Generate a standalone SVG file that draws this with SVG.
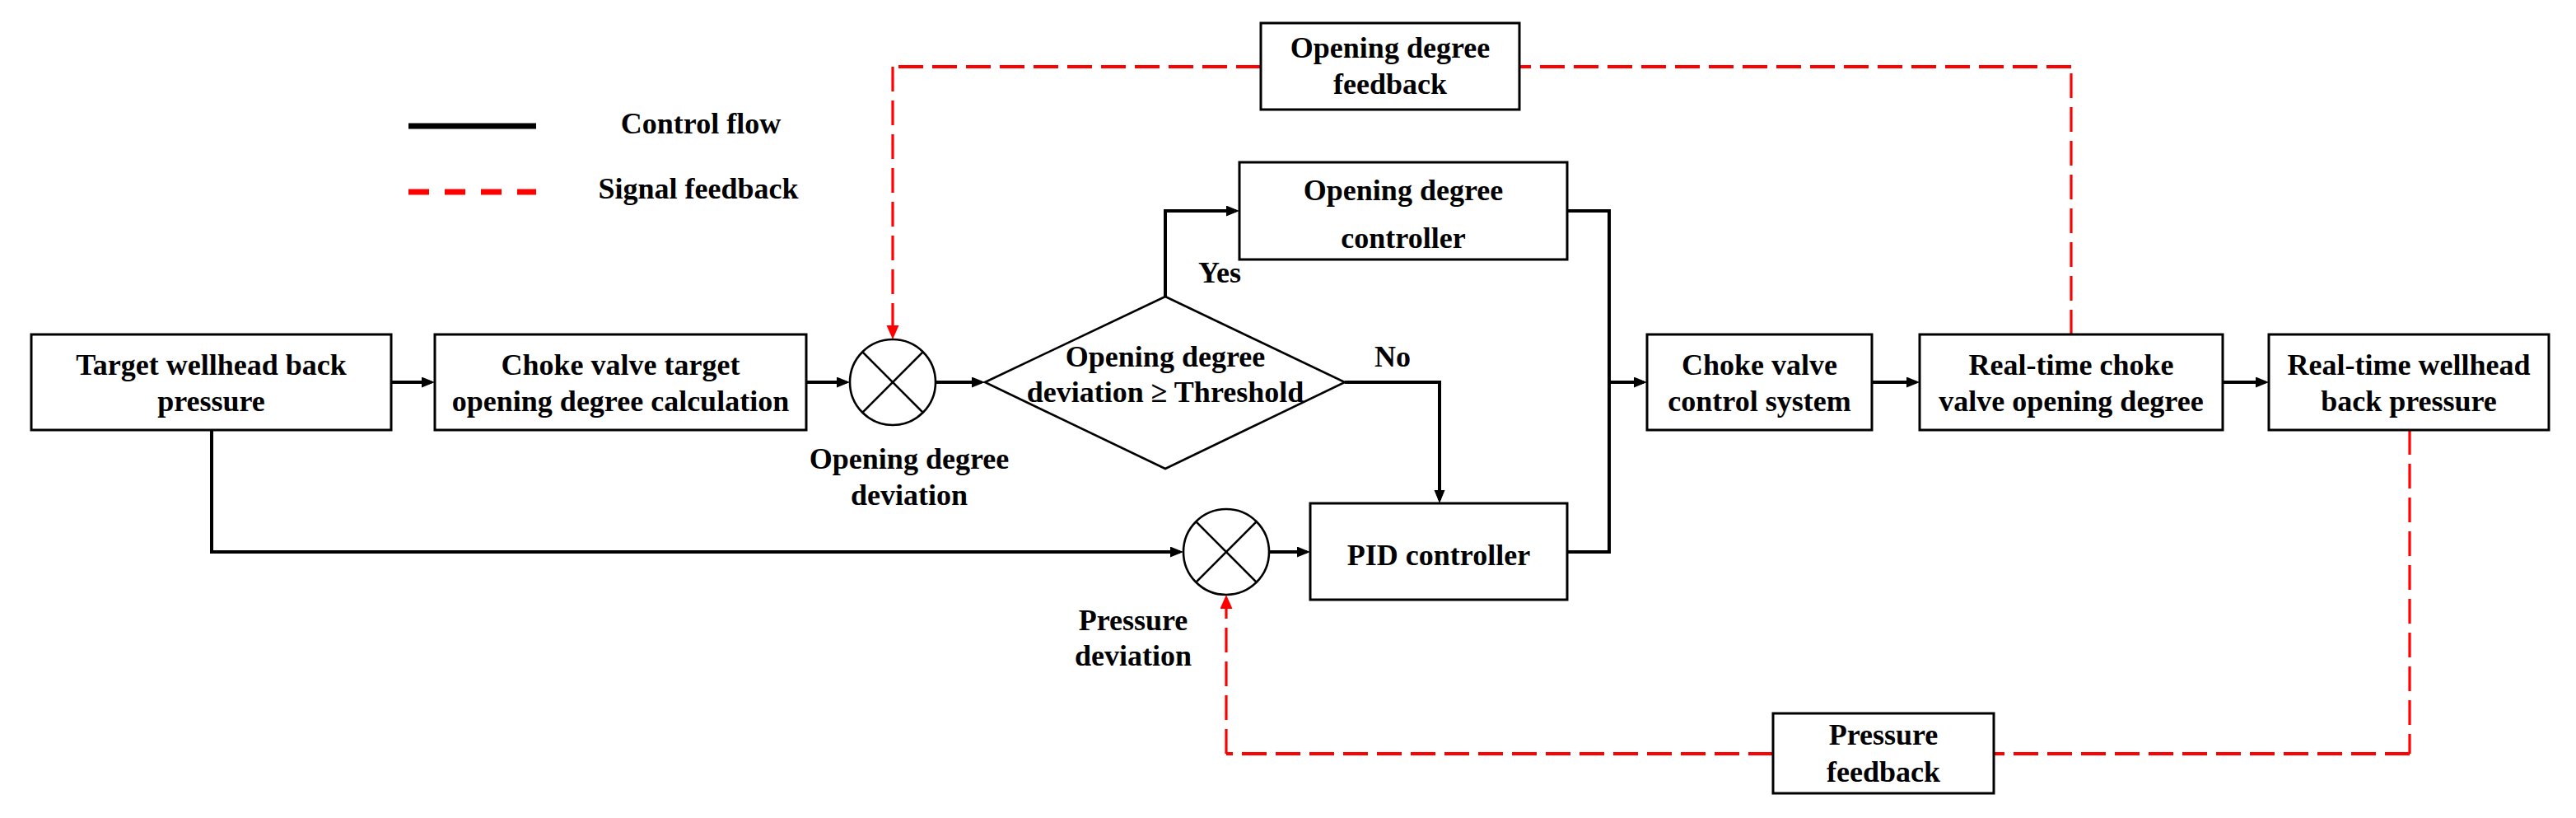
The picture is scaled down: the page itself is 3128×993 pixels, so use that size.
<svg xmlns="http://www.w3.org/2000/svg" width="3128" height="993" viewBox="0 0 3128 993">
<style>
  .box{fill:#fff;stroke:#000;stroke-width:3}
  .shape{fill:#fff;stroke:#000;stroke-width:2.6}
  .xl{stroke:#000;stroke-width:2.6}
  .t{font-family:"Liberation Serif","Times New Roman",serif;font-weight:bold;font-size:36px;fill:#000;text-anchor:middle}
  .ctl{fill:none;stroke:#000;stroke-width:4}
  .fbh{fill:none;stroke:#ff0000;stroke-width:4;stroke-dasharray:30 11}
  .fbv{fill:none;stroke:#ff0000;stroke-width:3.2;stroke-dasharray:30 11}
</style>
<defs>
  <marker id="ab" markerUnits="userSpaceOnUse" markerWidth="17" markerHeight="14" refX="12" refY="6.5" orient="auto">
    <path d="M0,0 L16,6.5 L0,13 z" fill="#000"/>
  </marker>
  <marker id="ar" markerUnits="userSpaceOnUse" markerWidth="18" markerHeight="16" refX="13" refY="7.5" orient="auto">
    <path d="M0,0 L17,7.5 L0,15 z" fill="#ff0000"/>
  </marker>
</defs>
<rect width="3128" height="993" fill="#fff"/>

<g id="legend">
  <line x1="496" y1="153" x2="651" y2="153" stroke="#000" stroke-width="7"/>
  <text class="t" x="851" y="162">Control flow</text>
  <line x1="496" y1="233" x2="651" y2="233" stroke="#ff0000" stroke-width="7" stroke-dasharray="25 19"/>
  <text class="t" x="848" y="241">Signal feedback</text>
</g>

<g id="connectors">
  <path class="ctl" d="M475,464 L524,464" marker-end="url(#ab)"/>
  <path class="ctl" d="M979,464 L1028,464" marker-end="url(#ab)"/>
  <path class="ctl" d="M1136,464 L1192,464" marker-end="url(#ab)"/>
  <path class="ctl" d="M1415,361 L1415,256 L1501,256" marker-end="url(#ab)"/>
  <path class="ctl" d="M1633,464 L1748,464 L1748,607" marker-end="url(#ab)"/>
  <path class="ctl" d="M257,522 L257,670 L1433,670" marker-end="url(#ab)"/>
  <path class="ctl" d="M1541,670 L1587,670" marker-end="url(#ab)"/>
  <path class="ctl" d="M1903,256 L1954,256 L1954,670 L1903,670"/>
  <path class="ctl" d="M1954,464 L1996,464" marker-end="url(#ab)"/>
  <path class="ctl" d="M2273,464 L2327,464" marker-end="url(#ab)"/>
  <path class="ctl" d="M2699,464 L2751,464" marker-end="url(#ab)"/>
  <!-- opening degree feedback -->
  <path class="fbv" d="M2515,406 L2515,81"/>
  <path class="fbh" d="M2515,81 L1845,81"/>
  <path class="fbh" d="M1531,81 L1084,81"/>
  <path class="fbv" d="M1084,81 L1084,408" marker-end="url(#ar)"/>
  <!-- pressure feedback -->
  <path class="fbv" d="M2926,522 L2926,915"/>
  <path class="fbh" d="M2926,915 L2421,915"/>
  <path class="fbh" d="M2153,915 L1489,915"/>
  <path class="fbv" d="M1489,915 L1489,726" marker-end="url(#ar)"/>
</g>

<g id="n_target">
  <rect class="box" x="38" y="406" width="437" height="116"/>
  <text class="t" x="256.5" y="455">Target wellhead back</text>
  <text class="t" x="256.5" y="498.5">pressure</text>
</g>
<g id="n_chokecalc">
  <rect class="box" x="528" y="406" width="451" height="116"/>
  <text class="t" x="753.5" y="455">Choke valve target</text>
  <text class="t" x="753.5" y="498.5">opening degree calculation</text>
</g>
<g id="n_sum1">
  <circle class="shape" cx="1084" cy="464" r="52"/>
  <line class="xl" x1="1047.2" y1="427.2" x2="1120.8" y2="500.8"/>
  <line class="xl" x1="1120.8" y1="427.2" x2="1047.2" y2="500.8"/>
</g>
<g id="n_decision">
  <polygon class="shape" points="1196,464 1415,360 1633,464 1415,569"/>
  <text class="t" x="1415" y="445">Opening degree</text>
  <text class="t" x="1415" y="488">deviation ≥ Threshold</text>
</g>
<g id="n_odctrl">
  <rect class="box" x="1505" y="197" width="398" height="118"/>
  <text class="t" x="1704" y="243">Opening degree</text>
  <text class="t" x="1704" y="301">controller</text>
</g>
<g id="n_sum2">
  <circle class="shape" cx="1489" cy="670" r="52"/>
  <line class="xl" x1="1452.2" y1="633.2" x2="1525.8" y2="706.8"/>
  <line class="xl" x1="1525.8" y1="633.2" x2="1452.2" y2="706.8"/>
</g>
<g id="n_pid">
  <rect class="box" x="1591" y="611" width="312" height="117"/>
  <text class="t" x="1747" y="686">PID controller</text>
</g>
<g id="n_chokecs">
  <rect class="box" x="2000" y="406" width="273" height="116"/>
  <text class="t" x="2136.5" y="455">Choke valve</text>
  <text class="t" x="2136.5" y="498.5">control system</text>
</g>
<g id="n_rtchoke">
  <rect class="box" x="2331" y="406" width="368" height="116"/>
  <text class="t" x="2515" y="455">Real-time choke</text>
  <text class="t" x="2515" y="498.5">valve opening degree</text>
</g>
<g id="n_rtwh">
  <rect class="box" x="2755" y="406" width="340" height="116"/>
  <text class="t" x="2925" y="455">Real-time wellhead</text>
  <text class="t" x="2925" y="498.5">back pressure</text>
</g>
<g id="n_odfb">
  <rect class="box" x="1531" y="28" width="314" height="105"/>
  <text class="t" x="1688" y="70">Opening degree</text>
  <text class="t" x="1688" y="114">feedback</text>
</g>
<g id="n_pfb">
  <rect class="box" x="2153" y="866" width="268" height="97"/>
  <text class="t" x="2287" y="904">Pressure</text>
  <text class="t" x="2287" y="949">feedback</text>
</g>

<g id="labels">
  <text class="t" x="1481" y="343">Yes</text>
  <text class="t" x="1691" y="445">No</text>
  <text class="t" x="1104" y="569">Opening degree</text>
  <text class="t" x="1104" y="613">deviation</text>
  <text class="t" x="1376" y="765">Pressure</text>
  <text class="t" x="1376" y="808">deviation</text>
</g>
</svg>
